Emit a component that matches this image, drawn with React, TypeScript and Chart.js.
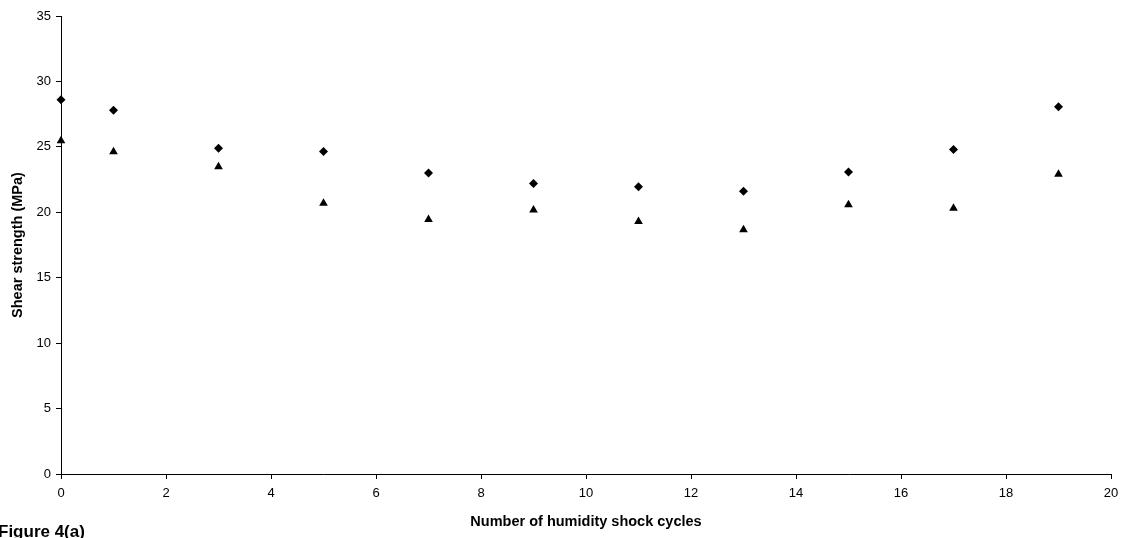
import React, { useEffect, useRef } from "react";
import { Chart, registerables } from "chart.js";

Chart.register(...registerables);

const cycles = [0, 1, 3, 5, 7, 9, 11, 13, 15, 17, 19];
const seriesDiamond = [28.6, 27.8, 24.9, 24.65, 23.0, 22.2, 21.95, 21.6, 23.07, 24.8, 28.06];
const seriesTriangle = [25.46, 24.62, 23.48, 20.7, 19.45, 20.17, 19.3, 18.66, 20.57, 20.3, 22.9];
const xTitle = "Number of humidity shock cycles";
const yTitle = "Shear strength (MPa)";
const caption = "Figure 4(a)";

const FONT = "Arial, 'Liberation Sans', sans-serif";

export default function App() {
  const ref = useRef<HTMLCanvasElement | null>(null);

  useEffect(() => {
    if (!ref.current) return;
    const captionPlugin = {
      id: "caption",
      afterDraw(chart: any) {
        const ctx = chart.ctx;
        ctx.save();
        ctx.fillStyle = "#000";
        ctx.font = `bold 17px ${FONT}`;
        ctx.textBaseline = "alphabetic";
        ctx.textAlign = "left";
        ctx.fillText(caption, -2, 537);
        ctx.restore();
      },
    };
    const chart = new Chart(ref.current, {
      type: "scatter",
      data: {
        datasets: [
          {
            label: "A",
            data: cycles.map((x, i) => ({ x, y: seriesDiamond[i] })),
            pointStyle: "rectRot",
            pointRadius: 4.5,
            backgroundColor: "#000",
            borderColor: "#000",
            borderWidth: 0,
            clip: false,
          },
          {
            label: "B",
            data: cycles.map((x, i) => ({ x, y: seriesTriangle[i] })),
            pointStyle: "triangle",
            pointRadius: 5,
            backgroundColor: "#000",
            borderColor: "#000",
            borderWidth: 0,
            clip: false,
          },
        ],
      },
      options: {
        responsive: false,
        animation: false,
        events: [],
        layout: { padding: { left: 0, top: 16, right: 16, bottom: 0 } },
        plugins: {
          legend: { display: false },
          tooltip: { enabled: false },
        },
        scales: {
          x: {
            type: "linear",
            min: 0,
            max: 20,
            afterFit: (s: any) => {
              s.height = 64;
            },
            ticks: {
              stepSize: 2,
              color: "#000",
              font: { family: FONT, size: 13 },
              padding: 7,
              maxRotation: 0,
            },
            grid: {
              drawOnChartArea: false,
              drawTicks: true,
              tickLength: 5,
              color: "#000",
            },
            border: { display: true, color: "#000", width: 1 },
            title: {
              display: true,
              text: xTitle,
              color: "#000",
              font: { family: FONT, size: 14.5, weight: "bold" },
              padding: { top: 0, bottom: 7 },
            },
          },
          y: {
            type: "linear",
            min: 0,
            max: 35,
            afterFit: (s: any) => {
              s.width = 61;
            },
            ticks: {
              stepSize: 5,
              color: "#000",
              font: { family: FONT, size: 13 },
              padding: 5,
            },
            grid: {
              drawOnChartArea: false,
              drawTicks: true,
              tickLength: 5,
              color: "#000",
            },
            border: { display: true, color: "#000", width: 1 },
            title: {
              display: true,
              text: yTitle,
              color: "#000",
              font: { family: FONT, size: 14.5, weight: "bold" },
              padding: { top: 9, bottom: 0 },
            },
          },
        },
      },
      plugins: [captionPlugin],
    });
    return () => chart.destroy();
  }, []);

  return (
    <div style={{ position: "absolute", left: 0, top: 0, width: 1127, height: 538, background: "#fff" }}>
      <canvas ref={ref} width={1127} height={538} style={{ display: "block", width: 1127, height: 538 }} />
    </div>
  );
}
